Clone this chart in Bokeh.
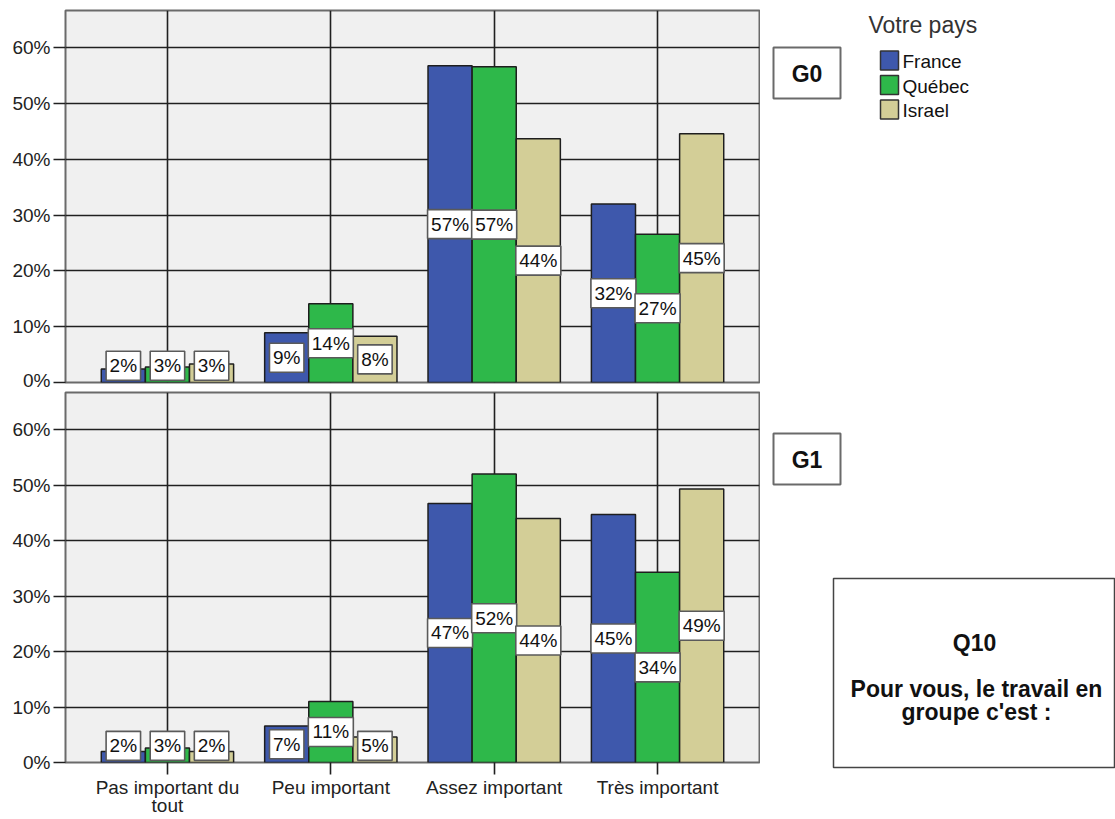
from bokeh.plotting import figure
from bokeh.layouts import row, column
from bokeh.models import ColumnDataSource, FixedTicker, PrintfTickFormatter, Range1d
from bokeh.core.properties import value
from bokeh.embed import file_html
from bokeh.resources import INLINE

# ---------------- data ----------------
categories = ["Pas important du\ntout", "Peu important", "Assez important", "Très important"]
countries = ["France", "Québec", "Israel"]
colors = ["#3E58AC", "#2EB84A", "#D3CE97"]
groups = ["G0", "G1"]

g0_france = [2.4, 8.9, 56.8, 32.0]
g0_quebec = [2.8, 14.1, 56.6, 26.6]
g0_israel = [3.3, 8.3, 43.7, 44.6]

g1_france = [2.0, 6.6, 46.7, 44.7]
g1_quebec = [2.6, 11.0, 52.0, 34.3]
g1_israel = [2.0, 4.6, 44.0, 49.3]

y_ticks = [0, 10, 20, 30, 40, 50, 60]
legend_title = "Votre pays"
question_lines = ["Q10", "Pour vous, le travail en", "groupe c'est :"]

FONT = "Liberation Sans"
INK = "#1E1E1E"
GRID = "#202020"

# approximate Arial advance widths (em) for label box sizing
_adv = {"%": 0.889}


def text_px(t, size):
    return sum(_adv.get(c, 0.556) for c in t) * size


def make_panel(series, height, show_x):
    kw = dict(width=760, height=height,
              x_range=Range1d(-0.624, 3.624), y_range=Range1d(0, 66.7),
              output_backend="svg", toolbar_location=None, title=None,
              min_border_left=65, min_border_right=1,
              min_border_top=2 if show_x else 10,
              min_border_bottom=0 if show_x else 8)
    if not show_x:
        kw["x_axis_location"] = None
    p = figure(**kw)
    p.background_fill_color = "#F0F0F0"
    p.border_fill_color = "white"
    p.outline_line_color = "#6A6A6A"
    p.outline_line_width = 2

    p.xgrid.ticker = FixedTicker(ticks=list(range(len(categories))))
    p.ygrid.ticker = FixedTicker(ticks=y_ticks)
    for g in (p.xgrid[0], p.ygrid[0]):
        g.grid_line_color = GRID
        g.grid_line_width = 1.6
        g.level = "underlay"

    ya = p.yaxis[0]
    ya.ticker = FixedTicker(ticks=y_ticks)
    ya.formatter = PrintfTickFormatter(format="%d%%")
    ya.axis_line_color = None
    ya.major_tick_in = 0
    ya.major_tick_out = 12
    ya.major_tick_line_color = GRID
    ya.major_tick_line_width = 1.6
    ya.minor_tick_line_color = None
    ya.major_label_standoff = 3
    ya.major_label_text_font = FONT
    ya.major_label_text_font_size = "19px"
    ya.major_label_text_color = "#222222"

    if show_x:
        xa = p.xaxis[0]
        xa.ticker = FixedTicker(ticks=list(range(len(categories))))
        xa.major_label_overrides = {i: c for i, c in enumerate(categories)}
        xa.axis_line_color = None
        xa.major_tick_in = 0
        xa.major_tick_out = 12
        xa.major_tick_line_color = GRID
        xa.major_tick_line_width = 1.6
        xa.minor_tick_line_color = None
        xa.major_label_standoff = 2
        xa.major_label_text_font = FONT
        xa.major_label_text_font_size = "19px"
        xa.major_label_text_line_height = 0.9
        xa.major_label_text_color = "#222222"

    offsets = [-0.27, 0.0, 0.27]
    lx, ly, lt, lw = [], [], [], []
    for k, (vals, col) in enumerate(zip(series, colors)):
        xs = [i + offsets[k] for i in range(len(categories))]
        src = ColumnDataSource(dict(x=xs, top=vals))
        p.vbar(x="x", top="top", bottom=0, width=0.27, source=src,
               fill_color=col, line_color=INK, line_width=1.5)
        for x, v in zip(xs, vals):
            t = f"{int(v + 0.5)}%"
            lx.append(x)
            ly.append(max(v / 2.0, 3.0))
            lt.append(t)
            lw.append(text_px(t, 19) + 7)
    lsrc = ColumnDataSource(dict(x=lx, y=ly, t=lt, w=lw))
    p.rect(x="x", y="y", width="w", height=29, width_units="screen",
           height_units="screen", source=lsrc, fill_color="white",
           line_color="#5A5A5A", line_width=1.6)
    p.text(x="x", y="y", text="t", source=lsrc, text_align="center",
           text_baseline="middle", text_font=value(FONT),
           text_font_size="19px", text_color="#111111")
    return p


p_top = make_panel([g0_france, g0_quebec, g0_israel], 390, False)
p_bot = make_panel([g1_france, g1_quebec, g1_israel], 429, True)

# ---------------- right-hand annotations panel ----------------
p_side = figure(width=355, height=819, x_range=Range1d(760, 1115),
                y_range=Range1d(819, 0), output_backend="svg",
                toolbar_location=None, title=None, min_border=0,
                x_axis_location=None, y_axis_location=None)
p_side.grid.visible = False
p_side.outline_line_color = None
p_side.background_fill_color = "white"
p_side.border_fill_color = "white"

# legend
p_side.text(x=[868], y=[24], text=[legend_title], text_align="left",
            text_baseline="middle", text_font=value(FONT),
            text_font_size="23px", text_color="#333333")
leg_y = [60 + 24.5 * k for k in range(len(countries))]
p_side.quad(left=[880] * len(countries), right=[898] * len(countries),
            top=[y - 9.5 for y in leg_y], bottom=[y + 9.5 for y in leg_y],
            fill_color=colors, line_color="#333333", line_width=1.5)
p_side.text(x=[902] * len(countries), y=[y + 1 for y in leg_y], text=countries,
            text_align="left", text_baseline="middle", text_font=value(FONT),
            text_font_size="19px", text_color="#111111")

# group boxes
box_top = [47, 433]
p_side.quad(left=[773, 773], right=[840, 840], top=box_top,
            bottom=[t + 51 for t in box_top], fill_color="white",
            line_color="#6A6A6A", line_width=2)
p_side.text(x=[806.5, 806.5], y=[t + 26 for t in box_top], text=groups,
            text_align="center", text_baseline="middle", text_font=value(FONT),
            text_font_style="bold", text_font_size="23px", text_color="#111111")

# question box
p_side.quad(left=[833], right=[1114], top=[578], bottom=[767],
            fill_color="white", line_color="#444444", line_width=1.5)
p_side.text(x=[974, 976, 976], y=[642, 688, 711], text=question_lines,
            text_align="center", text_baseline="middle", text_font=value(FONT),
            text_font_style="bold", text_font_size="23px", text_color="#111111")

layout = row(column(p_top, p_bot), p_side)

open("out.html", "w").write(file_html(layout, INLINE))
